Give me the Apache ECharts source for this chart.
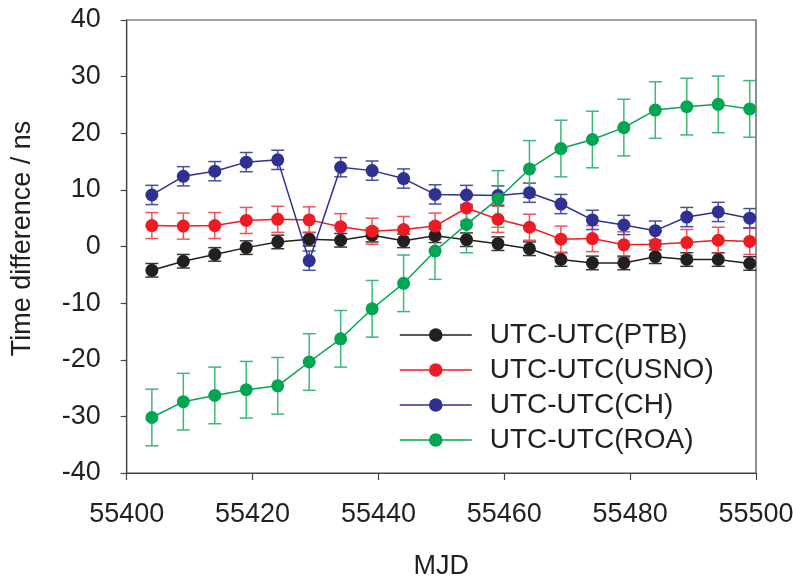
<!DOCTYPE html>
<html>
<head>
<meta charset="utf-8">
<script src="https://cdn.jsdelivr.net/npm/echarts@6/dist/echarts.min.js"></script>
<style>
  html, body { margin: 0; padding: 0; background: #fff; }
  #chart { width: 793px; height: 578px; }
</style>
</head>
<body>
<div id="chart"></div>
<script>
// MJD sampling dates (every 5 days)
const mjd = [55404, 55409, 55414, 55419, 55424, 55429, 55434, 55439, 55444, 55449,
             55454, 55459, 55464, 55469, 55474, 55479, 55484, 55489, 55494, 55499];

// Time differences in ns
const ptb  = [-4.2, -2.6, -1.4, -0.2, 0.8, 1.3, 1.1, 2.0, 1.0, 1.9,
               1.2, 0.5, -0.4, -2.3, -2.9, -2.9, -1.8, -2.3, -2.3, -3.0];
const usno = [3.7, 3.6, 3.7, 4.6, 4.8, 4.7, 3.5, 2.7, 3.0, 3.6,
              6.8, 4.8, 3.4, 1.3, 1.4, 0.3, 0.4, 0.7, 1.1, 0.9];
const ch   = [9.1, 12.4, 13.3, 14.9, 15.3, -2.5, 14.0, 13.4, 12.0, 9.2,
              9.1, 9.0, 9.5, 7.5, 4.7, 3.8, 2.8, 5.2, 6.1, 5.0];
const roa  = [-30.2, -27.4, -26.3, -25.3, -24.6, -20.4, -16.3, -11.0, -6.5, -0.8,
              3.9, 8.4, 13.7, 17.3, 18.9, 21.0, 24.1, 24.7, 25.1, 24.3];

// Uncertainties (ns)
const ptbErr = 1.2, usnoErr = 2.3, chErr = 1.7, roaErr = 5.0;

const names = ['UTC-UTC(PTB)', 'UTC-UTC(USNO)', 'UTC-UTC(CH)', 'UTC-UTC(ROA)'];
const colors = ['#231f20', '#ed1c24', '#2e3192', '#00a651'];
const barColors = ['#3a3637', '#f0545a', '#4a4ea3', '#3cb878'];
const values = [ptb, usno, ch, roa];
const errs = [ptbErr, usnoErr, chErr, roaErr];

const FONT = '"Liberation Sans", Arial, sans-serif';

function errorSeries(idx) {
  const data = mjd.map((x, i) => [x, values[idx][i] - errs[idx], values[idx][i] + errs[idx]]);
  return {
    type: 'custom',
    name: names[idx] + ' err',
    z: 2,
    silent: true,
    data: data,
    encode: { x: 0, y: [1, 2] },
    renderItem: function (params, api) {
      const x = api.value(0);
      const lo = api.coord([x, api.value(1)]);
      const hi = api.coord([x, api.value(2)]);
      const half = 6.5;
      const style = { stroke: barColors[idx], lineWidth: 1.5, fill: null };
      return {
        type: 'group',
        children: [
          { type: 'line', shape: { x1: lo[0], y1: lo[1], x2: hi[0], y2: hi[1] }, style: style },
          { type: 'line', shape: { x1: lo[0] - half, y1: lo[1], x2: lo[0] + half, y2: lo[1] }, style: style },
          { type: 'line', shape: { x1: hi[0] - half, y1: hi[1], x2: hi[0] + half, y2: hi[1] }, style: style }
        ]
      };
    }
  };
}

function lineSeries(idx) {
  return {
    type: 'line',
    name: names[idx],
    z: 3 + idx,
    data: mjd.map((x, i) => [x, values[idx][i]]),
    symbol: 'circle',
    symbolSize: 13,
    itemStyle: { color: colors[idx] },
    lineStyle: { color: colors[idx], width: 1.5 },
    emphasis: { disabled: true },
    animation: false
  };
}

const series = [];
for (let i = 0; i < 4; i++) series.push(errorSeries(i));
for (let i = 0; i < 4; i++) series.push(lineSeries(i));

const chart = echarts.init(document.getElementById('chart'), null, { renderer: 'canvas' });
chart.setOption({
  animation: false,
  backgroundColor: '#ffffff',
  grid: {
    left: 126.7, right: 37, top: 20, bottom: 105,
    containLabel: false,
    outerBoundsMode: 'none',
    show: true, borderColor: '#444', borderWidth: 1.2, backgroundColor: 'transparent'
  },
  legend: {
    data: names,
    orient: 'vertical',
    left: 394,
    top: 315,
    padding: 5,
    itemWidth: 72,
    itemHeight: 17,
    itemGap: 5,
    itemStyle: { borderWidth: 0 },
    lineStyle: { width: 1.5 },
    textStyle: { fontFamily: FONT, fontSize: 28, color: '#231f20', lineHeight: 30, padding: [0, 0, 0, 13] },
    selectedMode: false
  },
  xAxis: {
    type: 'value',
    min: 55400, max: 55500, interval: 20,
    name: 'MJD',
    nameLocation: 'middle',
    nameGap: 80,
    nameTextStyle: { fontFamily: FONT, fontSize: 27, color: '#231f20' },
    axisLine: { show: true, onZero: false, lineStyle: { color: '#444', width: 1.2 } },
    axisTick: { show: true, inside: false, length: 7, lineStyle: { color: '#444', width: 1.2 } },
    axisLabel: { fontFamily: FONT, fontSize: 27, color: '#231f20', margin: 28,
                 formatter: v => String(v) },
    splitLine: { show: false }
  },
  yAxis: {
    type: 'value',
    min: -40, max: 40, interval: 10,
    name: 'Time difference / ns',
    nameLocation: 'middle',
    nameGap: 91,
    nameTextStyle: { fontFamily: FONT, fontSize: 27, color: '#231f20', padding: [0, 0, 0, 16] },
    axisLine: { show: true, onZero: false, lineStyle: { color: '#444', width: 1.2 } },
    axisTick: { show: true, inside: false, length: 6, lineStyle: { color: '#444', width: 1.2 } },
    axisLabel: { fontFamily: FONT, fontSize: 27, color: '#231f20', margin: 26 },
    splitLine: { show: false }
  },
  series: series
});
</script>
</body>
</html>
